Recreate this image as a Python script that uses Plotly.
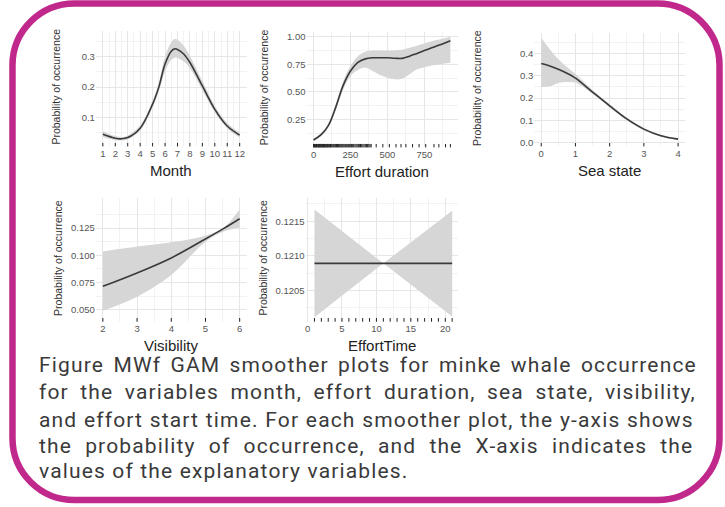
import plotly.graph_objects as go

W, H = 725, 507

# ---------------- data ----------------
# Month smoother
month_x = [1, 2, 2.5, 3, 4, 5, 5.5, 6, 6.5, 6.8, 7, 7.5, 8, 9, 10, 11, 12]
month_fit = [0.045, 0.032, 0.030, 0.034, 0.065, 0.144, 0.200, 0.276, 0.318, 0.326, 0.324, 0.309, 0.281, 0.204, 0.127, 0.072, 0.042]
month_lo = [0.036, 0.026, 0.025, 0.028, 0.057, 0.134, 0.186, 0.252, 0.290, 0.297, 0.296, 0.284, 0.262, 0.190, 0.117, 0.064, 0.034]
month_hi = [0.055, 0.039, 0.036, 0.041, 0.074, 0.155, 0.215, 0.300, 0.348, 0.358, 0.356, 0.336, 0.302, 0.220, 0.138, 0.081, 0.051]
month_rug = [1, 2, 3, 4, 5, 6, 7, 8, 9, 10, 11, 12]

# Effort duration smoother
dur_x = [0, 50, 100, 150, 200, 250, 300, 350, 400, 450, 500, 550, 600, 650, 700, 750, 800, 850, 926]
dur_fit = [0.065, 0.110, 0.195, 0.360, 0.557, 0.690, 0.768, 0.800, 0.810, 0.810, 0.810, 0.806, 0.805, 0.825, 0.850, 0.875, 0.900, 0.925, 0.965]
dur_lo = [0.055, 0.098, 0.178, 0.335, 0.520, 0.645, 0.700, 0.722, 0.690, 0.655, 0.630, 0.615, 0.620, 0.660, 0.705, 0.725, 0.740, 0.750, 0.765]
dur_hi = [0.078, 0.125, 0.215, 0.388, 0.595, 0.735, 0.825, 0.865, 0.875, 0.875, 0.875, 0.878, 0.882, 0.900, 0.920, 0.940, 0.960, 0.975, 1.000]
dur_rug = [0, 4, 8, 12, 16, 20, 25, 30, 34, 38, 42, 46, 50, 55, 60, 64, 68, 72, 76, 80,
           85, 90, 95, 100, 105, 110, 115, 120, 126, 132, 138, 144, 150, 156, 162, 168,
           174, 180, 186, 192, 198, 205, 212, 218, 225, 232, 238, 245, 252, 258, 265,
           272, 280, 288, 295, 303, 310, 318, 326, 334, 342, 350, 358, 366, 374, 382, 390,
           424, 469, 513, 558, 592, 625, 670, 714, 759, 815, 848, 893, 926]

# Sea state smoother
sea_x = [0, 0.25, 0.5, 0.75, 1, 1.5, 2, 2.5, 3, 3.5, 4]
sea_fit = [0.356, 0.345, 0.330, 0.312, 0.290, 0.227, 0.165, 0.106, 0.060, 0.030, 0.015]
sea_lo = [0.250, 0.252, 0.268, 0.272, 0.270, 0.218, 0.158, 0.100, 0.055, 0.026, 0.011]
sea_hi = [0.472, 0.420, 0.375, 0.340, 0.308, 0.236, 0.172, 0.112, 0.065, 0.034, 0.019]
sea_rug = [0, 1, 2, 3, 4]

# Visibility smoother
vis_x = [2, 3, 4, 5, 5.5, 6]
vis_fit = [0.0715, 0.0838, 0.0976, 0.1150, 0.1240, 0.1336]
vis_lo = [0.0490, 0.0620, 0.0820, 0.1125, 0.1215, 0.1255]
vis_hi = [0.1035, 0.1080, 0.1120, 0.1180, 0.1245, 0.1420]
vis_rug = [2, 3, 4, 5, 6]

# Effort start time smoother
time_x = [1, 11, 21]
time_fit = [0.12089, 0.12089, 0.12089]
time_lo = [0.12011, 0.12089, 0.12012]
time_hi = [0.12167, 0.12089, 0.12165]
time_rug = [1, 2, 3, 4, 5, 6, 7, 8, 9, 10, 11, 12, 13, 14, 15, 16, 17, 18, 19, 20, 21]

# tick labels
month_ticks = [1, 2, 3, 4, 5, 6, 7, 8, 9, 10, 11, 12]
dur_ticks = [0, 250, 500, 750]
sea_ticks = [0, 1, 2, 3, 4]
vis_ticks = [2, 3, 4, 5, 6]
time_ticks = [0, 5, 10, 15, 20]
month_yticks = [0.1, 0.2, 0.3]
dur_yticks = [0.25, 0.50, 0.75, 1.00]
sea_yticks = [0.0, 0.1, 0.2, 0.3, 0.4]
vis_yticks = [0.050, 0.075, 0.100, 0.125]
time_yticks = [0.1205, 0.1210, 0.1215]

caption_lines = [
    "Figure MWf GAM smoother plots for minke whale occurrence",
    "for the variables month, effort duration, sea state, visibility,",
    "and effort start time. For each smoother plot, the y-axis shows",
    "the probability of occurrence, and the X-axis indicates the",
    "values of the explanatory variables.",
]


# ---------------- helpers ----------------
def fx(p):
    return p / W


def fy(p):
    return 1 - p / H


def minors(ticks):
    step = ticks[1] - ticks[0]
    pts = [ticks[0] - step / 2]
    for a, b in zip(ticks[:-1], ticks[1:]):
        pts.append((a + b) / 2)
    pts.append(ticks[-1] + step / 2)
    return pts


GRID = "#e6e6e6"
MINOR = "#f2f2f2"
TICKFONT = dict(family="Liberation Sans, Arial, sans-serif", size=9.5, color="#555555")
FILL = "#d6d6d6"
LINE = "#3a3a3a"

fig = go.Figure()

panels = [
    # name, x, fit, lo, hi, rug, xticks, yticks, yfmt, xdom(px), ydom(px), xrange, yrange, shape, title
    ("1", month_x, month_fit, month_lo, month_hi, month_rug, month_ticks, month_yticks, ".1f",
     (95, 246), (30, 146), (0.44, 12.56), (0.005, 0.385), "spline", "Month"),
    ("2", dur_x, dur_fit, dur_lo, dur_hi, dur_rug, dur_ticks, dur_yticks, ".2f",
     (306, 458), (31, 147), (-47, 980), (-0.003, 1.045), "spline", "Effort duration"),
    ("3", sea_x, sea_fit, sea_lo, sea_hi, sea_rug, sea_ticks, sea_yticks, ".1f",
     (534, 685), (32, 146), (-0.204, 4.204), (-0.018, 0.494), "spline", "Sea state"),
    ("4", vis_x, vis_fit, vis_lo, vis_hi, vis_rug, vis_ticks, vis_yticks, ".3f",
     (95, 246), (198, 322), (1.796, 6.204), (0.039, 0.1524), "spline", "Visibility"),
    ("5", time_x, time_fit, time_lo, time_hi, time_rug, time_ticks, time_yticks, ".4f",
     (305, 458), (198, 322), (-0.29, 21.9), (0.120045, 0.121833), "linear", "EffortTime"),
]

ytitle_x = {"1": 55, "2": 263, "3": 476, "4": 57, "5": 262}

shapes = []
annotations = []

for (n, xs, fit, lo, hi, rug, xt, yt, yfmt, xd, yd, xr, yr, shp, title) in panels:
    key = "" if n == "1" else n
    xa = "x" + key
    ya = "y" + key
    fig.add_trace(go.Scatter(x=xs, y=lo, xaxis=xa, yaxis=ya, mode="lines",
                             line=dict(width=0, shape=shp, color=FILL),
                             hoverinfo="skip", showlegend=False))
    fig.add_trace(go.Scatter(x=xs, y=hi, xaxis=xa, yaxis=ya, mode="lines",
                             line=dict(width=0, shape=shp, color=FILL), fill="tonexty",
                             fillcolor=FILL, hoverinfo="skip", showlegend=False))
    fig.add_trace(go.Scatter(x=xs, y=fit, xaxis=xa, yaxis=ya, mode="lines",
                             line=dict(width=1.6, shape=shp, color=LINE),
                             showlegend=False))

    fig.layout["xaxis" + key] = dict(
        domain=[fx(xd[0]), fx(xd[1])], range=list(xr), anchor=ya,
        tickvals=xt, ticktext=[str(v) for v in xt], showline=False, zeroline=False,
        ticks="", showgrid=True, gridcolor=GRID, gridwidth=1, tickfont=TICKFONT,
        minor=dict(tickvals=minors(xt), showgrid=True, gridcolor=MINOR, gridwidth=1),
    )
    fig.layout["yaxis" + key] = dict(
        domain=[fy(yd[1]), fy(yd[0])], range=list(yr), anchor=xa,
        tickvals=yt, ticktext=[format(v, yfmt) for v in yt], showline=False, zeroline=False,
        ticks="", showgrid=True, gridcolor=GRID, gridwidth=1, tickfont=TICKFONT,
        minor=dict(tickvals=minors(yt), showgrid=True, gridcolor=MINOR, gridwidth=1),
    )

    # rug marks along the bottom of each panel
    for v in rug:
        shapes.append(dict(type="line", xref=xa, yref=ya + " domain", x0=v, x1=v, y0=0, y1=0.03,
                           line=dict(color="#222222", width=1)))

    # axis titles
    annotations.append(dict(text=title, xref="paper", yref="paper",
                            x=fx((xd[0] + xd[1]) / 2), y=fy(yd[1] + 24), xanchor="center",
                            yanchor="middle", showarrow=False,
                            font=dict(family="Liberation Sans, Arial, sans-serif", size=15,
                                      color="#222222")))
    annotations.append(dict(text="Probability of occurrence", xref="paper", yref="paper",
                            x=fx(ytitle_x[n]), y=fy((yd[0] + yd[1]) / 2 - 2), textangle=-90,
                            xanchor="center", yanchor="middle", showarrow=False,
                            font=dict(family="Liberation Sans, Arial, sans-serif", size=10.5,
                                      color="#333333")))

# caption: tracked text, with word spacing per line to fill the justified width
cap_y = [365, 393, 421, 447, 472]
cap_word_gap = [3.0, 5.1, 0.3, 6.8, 0.0]
for line, yy, gap in zip(caption_lines, cap_y, cap_word_gap):
    styled = f'<span style="letter-spacing:1.15px;word-spacing:{gap}px">{line}</span>'
    annotations.append(dict(text=styled, xref="paper", yref="paper", x=fx(36), y=fy(yy),
                            xanchor="left", yanchor="middle", showarrow=False,
                            font=dict(family="Roboto, sans-serif", size=21, color="#3a3a3a")))

# rounded magenta frame
L, R, T, B, r = 11.5, 719.5, 2.5, 501, 62
k = 0.5523 * r


def P(x, y):
    return f"{fx(x):.5f},{fy(y):.5f}"


path = (f"M {P(L + r, T)} L {P(R - r, T)} "
        f"C {P(R - r + k, T)} {P(R, T + r - k)} {P(R, T + r)} "
        f"L {P(R, B - r)} "
        f"C {P(R, B - r + k)} {P(R - r + k, B)} {P(R - r, B)} "
        f"L {P(L + r, B)} "
        f"C {P(L + r - k, B)} {P(L, B - r + k)} {P(L, B - r)} "
        f"L {P(L, T + r)} "
        f"C {P(L, T + r - k)} {P(L + r - k, T)} {P(L + r, T)} Z")
shapes.append(dict(type="path", xref="paper", yref="paper", path=path,
                   line=dict(color="#c1288b", width=6.5), layer="above"))

fig.update_layout(
    width=W, height=H, margin=dict(l=0, r=0, t=0, b=0),
    paper_bgcolor="white", plot_bgcolor="white",
    shapes=shapes, annotations=annotations, showlegend=False,
)

fig.write_html("out.html")
